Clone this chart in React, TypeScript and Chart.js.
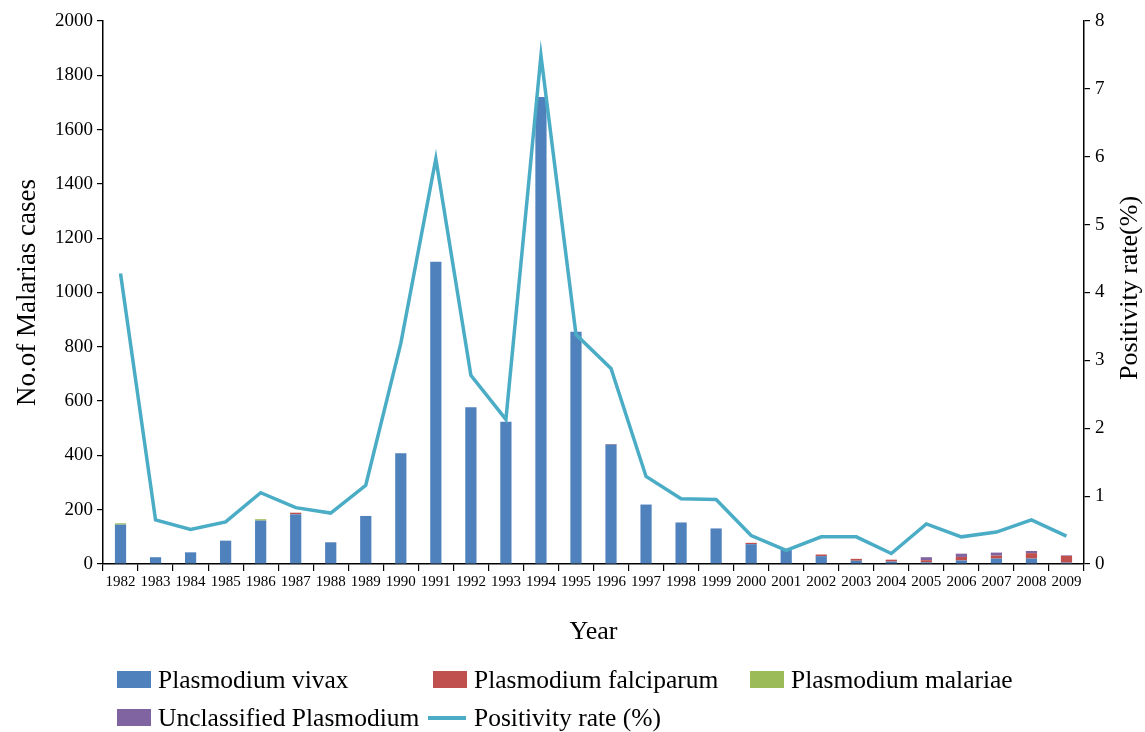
import React, { useEffect, useRef } from "react";
import { Chart, registerables } from "chart.js";

Chart.register(...registerables);

const years = [
  "1982", "1983", "1984", "1985", "1986", "1987", "1988", "1989", "1990", "1991",
  "1992", "1993", "1994", "1995", "1996", "1997", "1998", "1999", "2000", "2001",
  "2002", "2003", "2004", "2005", "2006", "2007", "2008", "2009",
];
const vivax = [145, 25, 43, 86, 160, 183, 80, 177, 408, 1113, 577, 524, 1720, 855, 440, 219, 153, 131, 73, 52, 29, 12, 9, 6, 13, 20, 20, 5];
const falciparum = [0, 0, 0, 0, 0, 6, 0, 0, 0, 0, 0, 0, 0, 0, 2, 0, 0, 0, 5, 4, 6, 7, 7, 8, 13, 11, 20, 25];
const malariae = [5, 0, 0, 0, 5, 0, 0, 0, 0, 0, 0, 0, 0, 0, 0, 0, 0, 0, 0, 0, 0, 0, 0, 0, 0, 0, 0, 0];
const unclassified = [0, 0, 0, 0, 0, 0, 0, 0, 0, 0, 0, 0, 0, 0, 0, 0, 0, 0, 0, 0, 0, 0, 0, 11, 12, 11, 8, 2];
const positivity = [4.28, 0.65, 0.51, 0.62, 1.05, 0.83, 0.75, 1.16, 3.25, 5.97, 2.78, 2.13, 7.49, 3.38, 2.88, 1.29, 0.96, 0.95, 0.42, 0.2, 0.4, 0.4, 0.155, 0.59, 0.4, 0.47, 0.65, 0.41];

const FONT = "'Liberation Serif', 'Times New Roman', serif";
const C_VIVAX = "#4F81BD";
const C_FALC = "#C0504D";
const C_MAL = "#9BBB59";
const C_UNCL = "#8064A2";
const C_LINE = "#4BACC6";

export default function App() {
  const ref = useRef<HTMLCanvasElement | null>(null);

  useEffect(() => {
    if (!ref.current) return;
    const rightTitle = {
      id: "rightTitle",
      afterDraw(chart: any) {
        const { ctx } = chart;
        ctx.save();
        ctx.translate(1130, 288);
        ctx.rotate(-Math.PI / 2);
        ctx.font = `26px ${FONT}`;
        ctx.fillStyle = "#000";
        ctx.textAlign = "center";
        ctx.textBaseline = "middle";
        ctx.fillText("Positivity rate(%)", 0, 0);
        ctx.restore();
      },
    };
    const barCommon = {
      yAxisID: "y",
      stack: "s",
      order: 1,
      barPercentage: 0.32,
      categoryPercentage: 1,
      borderWidth: 0,
    };
    const chart = new Chart(ref.current, {
      type: "bar",
      data: {
        labels: years,
        datasets: [
          {
            type: "line",
            label: "Positivity rate (%)",
            data: positivity,
            yAxisID: "y1",
            borderColor: C_LINE,
            backgroundColor: C_LINE,
            borderWidth: 3.5,
            pointRadius: 0,
            tension: 0,
            fill: false,
            order: 0,
          } as any,
          { ...barCommon, label: "Plasmodium vivax", data: vivax, backgroundColor: C_VIVAX },
          { ...barCommon, label: "Plasmodium falciparum", data: falciparum, backgroundColor: C_FALC },
          { ...barCommon, label: "Plasmodium malariae", data: malariae, backgroundColor: C_MAL },
          { ...barCommon, label: "Unclassified Plasmodium", data: unclassified, backgroundColor: C_UNCL },
        ],
      },
      options: {
        responsive: false,
        animation: false,
        layout: { padding: { top: 21, left: 0, right: 0, bottom: 0 } },
        plugins: {
          legend: { display: false },
          tooltip: { enabled: false },
        },
        scales: {
          x: {
            stacked: true,
            offset: true,
            grid: {
              offset: true,
              drawOnChartArea: false,
              drawTicks: true,
              tickLength: 7,
              color: "#000",
              lineWidth: 1.2,
            },
            border: { display: true, color: "#000", width: 1.5 },
            ticks: {
              font: { family: FONT, size: 15 },
              color: "#000",
              maxRotation: 0,
              autoSkip: false,
              padding: 2,
            },
            title: {
              display: true,
              text: "Year",
              color: "#000",
              font: { family: FONT, size: 26 },
              padding: { top: 0, bottom: 84 },
            },
            afterFit(s: any) {
              s.height = 168;
            },
          },
          y: {
            position: "left",
            stacked: true,
            min: 0,
            max: 2000,
            grid: {
              drawOnChartArea: false,
              drawTicks: true,
              tickLength: 6,
              color: "#000",
              lineWidth: 1.2,
            },
            border: { display: true, color: "#000", width: 1.5 },
            ticks: {
              stepSize: 200,
              font: { family: FONT, size: 19 },
              color: "#000",
              padding: 4,
              callback: (v: any) => String(v),
            },
            title: {
              display: true,
              text: "No.of Malarias cases",
              color: "#000",
              font: { family: FONT, size: 27 },
              padding: { top: 12, bottom: 0 },
            },
            afterFit(s: any) {
              s.width = 103;
            },
          },
          y1: {
            position: "right",
            min: 0,
            max: 8,
            grid: {
              drawOnChartArea: false,
              drawTicks: true,
              tickLength: 6,
              color: "#000",
              lineWidth: 1.2,
            },
            border: { display: true, color: "#000", width: 1.5 },
            ticks: {
              stepSize: 1,
              font: { family: FONT, size: 19 },
              color: "#000",
              padding: 5,
              callback: (v: any) => String(v),
            },
            afterFit(s: any) {
              s.width = 61;
            },
          },
        },
      } as any,
      plugins: [rightTitle],
    });
    return () => chart.destroy();
  }, []);

  const textStyle: React.CSSProperties = {
    position: "absolute",
    fontFamily: FONT,
    fontSize: "25.5px",
    lineHeight: "30px",
    height: 30,
    color: "#000",
    whiteSpace: "nowrap",
  };
  const box = (left: number, top: number, color: string): React.CSSProperties => ({
    position: "absolute",
    left,
    top,
    width: 34,
    height: 17,
    background: color,
  });

  return (
    <div style={{ position: "fixed", left: 0, top: 0, width: 1145, height: 732, background: "#fff" }}>
      <canvas ref={ref} width={1145} height={732} style={{ display: "block", width: 1145, height: 732 }} />
      <div style={box(117, 671, C_VIVAX)} />
      <div style={{ ...textStyle, left: 158, top: 665 }}>Plasmodium vivax</div>
      <div style={box(433, 671, C_FALC)} />
      <div style={{ ...textStyle, left: 474, top: 665 }}>Plasmodium falciparum</div>
      <div style={box(750, 671, C_MAL)} />
      <div style={{ ...textStyle, left: 791, top: 665 }}>Plasmodium malariae</div>
      <div style={box(117, 709, C_UNCL)} />
      <div style={{ ...textStyle, left: 158, top: 703 }}>Unclassified Plasmodium</div>
      <div style={{ position: "absolute", left: 428, top: 716, width: 38, height: 4, background: C_LINE }} />
      <div style={{ ...textStyle, left: 474, top: 703 }}>Positivity rate (%)</div>
    </div>
  );
}
